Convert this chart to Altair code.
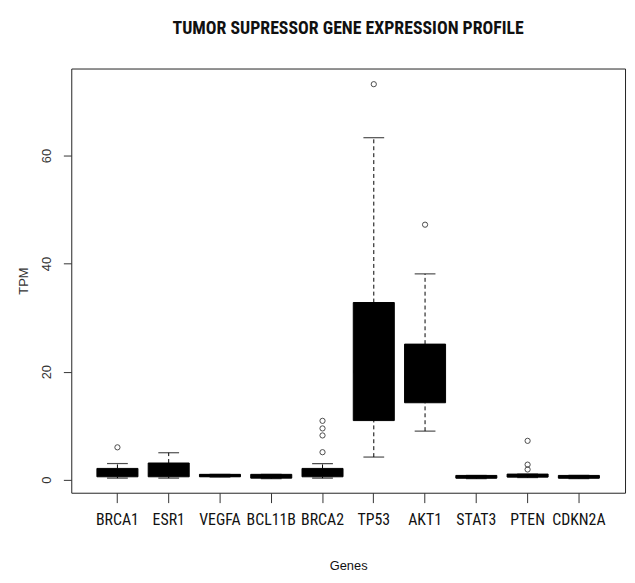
import altair as alt
import pandas as pd

genes = ["BRCA1", "ESR1", "VEGFA", "BCL11B", "BRCA2", "TP53", "AKT1", "STAT3", "PTEN", "CDKN2A"]
q1 = [0.55, 0.55, 0.55, 0.3, 0.55, 10.95, 14.25, 0.3, 0.5, 0.3]
q3 = [2.1, 3.1, 1.0, 1.0, 2.1, 32.8, 25.1, 0.8, 1.05, 0.8]
medians = [1.2, 1.0, 0.8, 0.6, 1.2, 20.0, 19.0, 0.5, 0.7, 0.5]
whisker_lo = [0.3, 0.3, 0.5, 0.2, 0.3, 4.2, 9.0, 0.2, 0.4, 0.2]
whisker_hi = [3.0, 5.0, 1.0, 1.0, 3.0, 63.3, 38.1, 0.8, 1.05, 0.8]

outlier_gene = ["BRCA1", "BRCA2", "BRCA2", "BRCA2", "BRCA2", "TP53", "AKT1", "PTEN", "PTEN", "PTEN"]
outlier_val = [6.0, 10.9, 9.5, 8.2, 5.1, 73.2, 47.2, 7.2, 2.8, 1.9]

y_ticks = [0, 20, 40, 60]

summary = pd.DataFrame({
    "gene": genes, "q1": q1, "q3": q3, "median": medians,
    "lo": whisker_lo, "hi": whisker_hi,
})
outliers = pd.DataFrame({"gene": outlier_gene, "value": outlier_val})

x_enc = alt.X("gene:N", sort=genes, title="Genes",
              scale=alt.Scale(paddingInner=0.2, paddingOuter=0.5))
y_scale = alt.Scale(domain=[-2.4, 76.1], nice=False, zero=False)
y_axis = alt.Axis(
    title="TPM", values=y_ticks, labelAngle=-90, labelAlign="center",
    labelBaseline="bottom", labelPadding=10,
)

base = alt.Chart(summary)

boxes = base.mark_bar(color="black", stroke="black", strokeWidth=1).encode(
    x=x_enc, y=alt.Y("q1:Q", scale=y_scale, axis=y_axis), y2="q3:Q")
upper_whisker = base.mark_rule(color="black", strokeWidth=1, strokeDash=[4, 3]).encode(
    x=x_enc, y=alt.Y("q3:Q", scale=y_scale, axis=y_axis), y2="hi:Q")
lower_whisker = base.mark_rule(color="black", strokeWidth=1, strokeDash=[4, 3]).encode(
    x=x_enc, y=alt.Y("lo:Q", scale=y_scale, axis=y_axis), y2="q1:Q")
median_tick = base.mark_tick(color="black", size=41, thickness=3).encode(
    x=x_enc, y=alt.Y("median:Q", scale=y_scale, axis=y_axis))
cap_hi = base.mark_tick(color="black", size=21, thickness=1.2).encode(
    x=x_enc, y=alt.Y("hi:Q", scale=y_scale, axis=y_axis))
cap_lo = base.mark_tick(color="black", size=21, thickness=1.2).encode(
    x=x_enc, y=alt.Y("lo:Q", scale=y_scale, axis=y_axis))
points = alt.Chart(outliers).mark_point(
    shape="circle", filled=False, size=28, color="black", strokeWidth=1).encode(
    x=x_enc, y=alt.Y("value:Q", scale=y_scale, axis=y_axis))

chart = alt.layer(
    boxes, upper_whisker, lower_whisker, median_tick, cap_hi, cap_lo, points
).properties(
    width=560, height=429,
    title=alt.TitleParams(
        "TUMOR SUPRESSOR GENE EXPRESSION PROFILE", font="Roboto Condensed",
        fontWeight="bold", fontSize=18, color="#111", anchor="middle", offset=31,
    ),
    autosize=alt.AutoSizeParams(type="none"),
    padding={"left": 64, "top": 58, "right": 2, "bottom": 80},
    background="white",
).configure_view(
    stroke="#222", strokeWidth=1
).configure_axisX(
    labelAngle=0, labelFont="Roboto Condensed", labelFontSize=16,
    labelColor="#111", tickSize=10, tickColor="#333", domain=False, labelPadding=9,
    titleFont="Liberation Sans", titleFontSize=13, titleFontWeight="normal",
    titleColor="#111", titlePadding=33, grid=False,
).configure_axisY(
    grid=False, domain=False, tickSize=8, tickColor="#333",
    labelFont="Liberation Sans", labelFontSize=13, labelColor="#333",
    titleFont="Liberation Sans", titleFontSize=13, titleFontWeight="normal",
    titleColor="#333", titlePadding=10,
)

chart.save("out.html", embed_options={"renderer": "svg", "actions": False})
